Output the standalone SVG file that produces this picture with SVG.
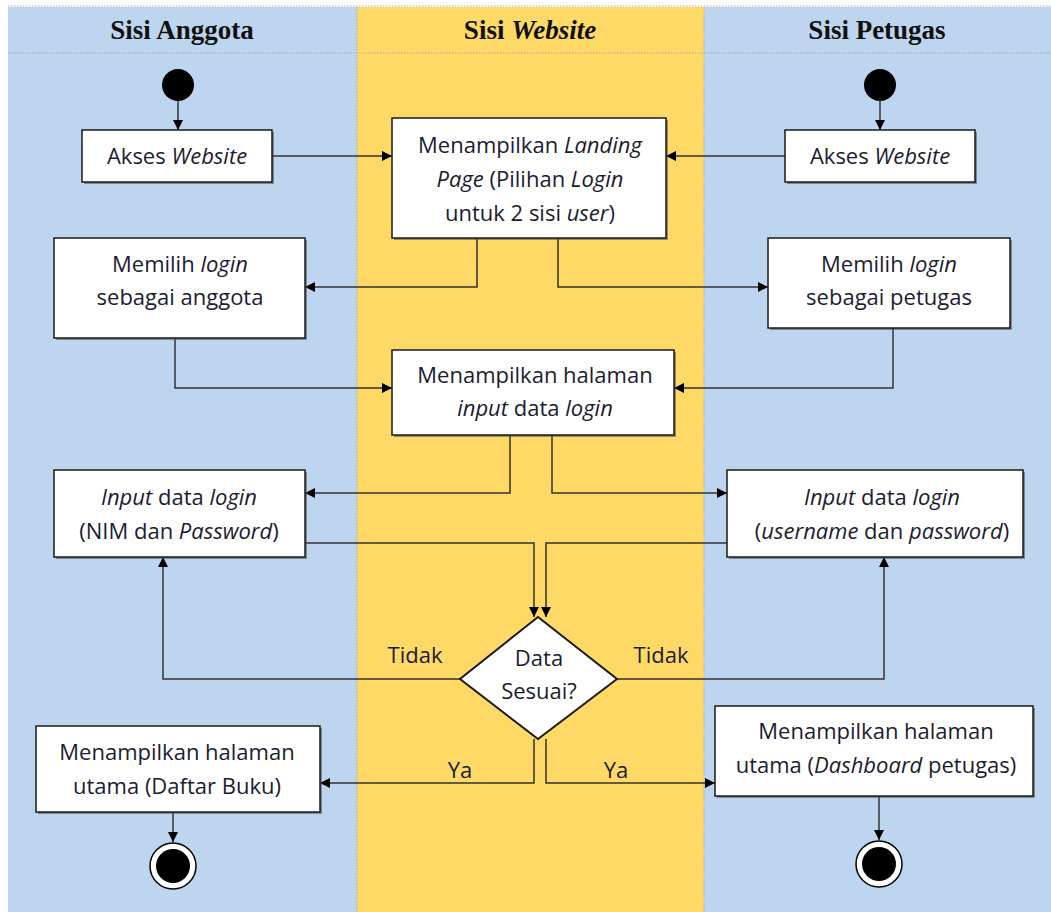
<svg xmlns="http://www.w3.org/2000/svg" width="1051" height="912" viewBox="0 0 1051 912">
<defs>
<marker id="ah" viewBox="0 0 10 10" refX="10" refY="5" markerWidth="10" markerHeight="10" markerUnits="userSpaceOnUse" orient="auto">
<path d="M0,0 L10,5 L0,10 z" fill="#000"/>
</marker>
</defs>
<style>
.box{fill:#fff;stroke:#1a1a1a;stroke-width:1.5}
.sh{fill:#555;opacity:0.6}
.t{font-family:"Open Sans","Liberation Sans",Arial,sans-serif;font-size:22px;fill:#1c1c30;text-anchor:middle}
.h{font-family:"Liberation Serif","Times New Roman",serif;font-size:27px;font-weight:bold;fill:#111;text-anchor:middle}
.c{fill:none;stroke:#333;stroke-width:1.5;marker-end:url(#ah)}
.dot{stroke:#aaa;stroke-width:1;stroke-dasharray:1.5 1.5;fill:none}
</style>
<rect width="1051" height="912" fill="#fff"/>
<g id="lanes">
<rect x="8" y="7" width="349" height="905" fill="#BDD5EE"/>
<rect x="357" y="7" width="347" height="905" fill="#FFD966"/>
<rect x="704" y="7" width="347" height="905" fill="#BDD5EE"/>
<line class="dot" x1="8" y1="6" x2="1051" y2="6"/>
<line class="dot" x1="8" y1="53" x2="1051" y2="53"/>
<line class="dot" x1="357" y1="7" x2="357" y2="912"/>
<line class="dot" x1="704" y1="7" x2="704" y2="912"/>
<text class="h" x="182" y="39">Sisi Anggota</text>
<text class="h" x="530" y="39">Sisi <tspan font-style="italic">Website</tspan></text>
<text class="h" x="877" y="39">Sisi Petugas</text>
</g>
<g id="connectors">
<line class="c" x1="178" y1="101" x2="178" y2="130"/>
<line class="c" x1="880" y1="101" x2="880" y2="130"/>
<line class="c" x1="272" y1="156" x2="392" y2="156"/>
<line class="c" x1="785" y1="156" x2="666" y2="156"/>
<polyline class="c" points="477,238 477,287 305,287"/>
<polyline class="c" points="558,238 558,287 768,287"/>
<polyline class="c" points="175,338 175,388 392,388"/>
<polyline class="c" points="893,328 893,388 674,388"/>
<polyline class="c" points="510,435 510,493 305,493"/>
<polyline class="c" points="552,435 552,493 727,493"/>
<polyline class="c" points="305,543 534,543 534,617"/>
<polyline class="c" points="727,543 546,543 546,617"/>
<polyline class="c" points="460,679 163,679 163,557"/>
<polyline class="c" points="617,679 884,679 884,557"/>
<polyline class="c" points="534,739 534,783 320,783"/>
<polyline class="c" points="546,739 546,783 715,783"/>
<line class="c" x1="173" y1="812" x2="173" y2="842"/>
<line class="c" x1="879" y1="796" x2="879" y2="840"/>
<text class="t" x="415" y="663">Tidak</text>
<text class="t" x="661" y="663">Tidak</text>
<text class="t" x="460" y="778">Ya</text>
<text class="t" x="616" y="778">Ya</text>
</g>
<g id="start-anggota"><circle cx="178" cy="85" r="16" fill="#000"/></g>
<g id="start-petugas"><circle cx="880" cy="85" r="16" fill="#000"/></g>
<g id="akses-anggota">
<rect class="sh" x="84" y="132" width="190" height="52"/>
<rect class="box" x="82" y="130" width="190" height="52"/>
<text class="t" x="177" y="164">Akses <tspan font-style="italic">Website</tspan></text>
</g>
<g id="landing">
<rect class="sh" x="394" y="120" width="274" height="120"/>
<rect class="box" x="392" y="118" width="274" height="120"/>
<text class="t" x="530" y="153">Menampilkan <tspan font-style="italic">Landing</tspan></text>
<text class="t" x="530" y="187"><tspan font-style="italic">Page</tspan> (Pilihan <tspan font-style="italic">Login</tspan></text>
<text class="t" x="530" y="221">untuk 2 sisi <tspan font-style="italic">user</tspan>)</text>
</g>
<g id="akses-petugas">
<rect class="sh" x="787" y="132" width="190" height="52"/>
<rect class="box" x="785" y="130" width="190" height="52"/>
<text class="t" x="880" y="164">Akses <tspan font-style="italic">Website</tspan></text>
</g>
<g id="pilih-anggota">
<rect class="sh" x="56" y="240" width="251" height="100"/>
<rect class="box" x="54" y="238" width="251" height="100"/>
<text class="t" x="180" y="272">Memilih <tspan font-style="italic">login</tspan></text>
<text class="t" x="180" y="305">sebagai anggota</text>
</g>
<g id="pilih-petugas">
<rect class="sh" x="770" y="240" width="242" height="90"/>
<rect class="box" x="768" y="238" width="242" height="90"/>
<text class="t" x="889" y="272">Memilih <tspan font-style="italic">login</tspan></text>
<text class="t" x="889" y="305">sebagai petugas</text>
</g>
<g id="halaman-input">
<rect class="sh" x="394" y="352" width="282" height="85"/>
<rect class="box" x="392" y="350" width="282" height="85"/>
<text class="t" x="535" y="383">Menampilkan halaman</text>
<text class="t" x="535" y="416"><tspan font-style="italic">input</tspan> data <tspan font-style="italic">login</tspan></text>
</g>
<g id="input-anggota">
<rect class="sh" x="56" y="472" width="251" height="87"/>
<rect class="box" x="54" y="470" width="251" height="87"/>
<text class="t" x="179" y="505"><tspan font-style="italic">Input</tspan> data <tspan font-style="italic">login</tspan></text>
<text class="t" x="179" y="539">(NIM dan <tspan font-style="italic">Password</tspan>)</text>
</g>
<g id="input-petugas">
<rect class="sh" x="729" y="472" width="296" height="87"/>
<rect class="box" x="727" y="470" width="296" height="87"/>
<text class="t" x="882" y="505"><tspan font-style="italic">Input</tspan> data <tspan font-style="italic">login</tspan></text>
<text class="t" x="882" y="539">(<tspan font-style="italic">username</tspan> dan <tspan font-style="italic">password</tspan>)</text>
</g>
<g id="decision">
<polygon points="538,617 617,679 538,739 460,679" fill="#fff" stroke="#1a1a1a" stroke-width="2"/>
<text class="t" x="539" y="666">Data</text>
<text class="t" x="539" y="699">Sesuai?</text>
</g>
<g id="utama-anggota">
<rect class="sh" x="38" y="728" width="284" height="86"/>
<rect class="box" x="36" y="726" width="284" height="86"/>
<text class="t" x="177" y="760">Menampilkan halaman</text>
<text class="t" x="177" y="794">utama (Daftar Buku)</text>
</g>
<g id="utama-petugas">
<rect class="sh" x="717" y="708" width="318" height="90"/>
<rect class="box" x="715" y="706" width="318" height="90"/>
<text class="t" x="876" y="739">Menampilkan halaman</text>
<text class="t" x="876" y="773">utama (<tspan font-style="italic">Dashboard</tspan> petugas)</text>
</g>
<g id="end-anggota">
<circle cx="173" cy="866" r="23" fill="#fff" stroke="#000" stroke-width="1.5"/>
<circle cx="173" cy="866" r="17" fill="#000"/>
</g>
<g id="end-petugas">
<circle cx="879" cy="864" r="23" fill="#fff" stroke="#000" stroke-width="1.5"/>
<circle cx="879" cy="864" r="17" fill="#000"/>
</g>
</svg>
